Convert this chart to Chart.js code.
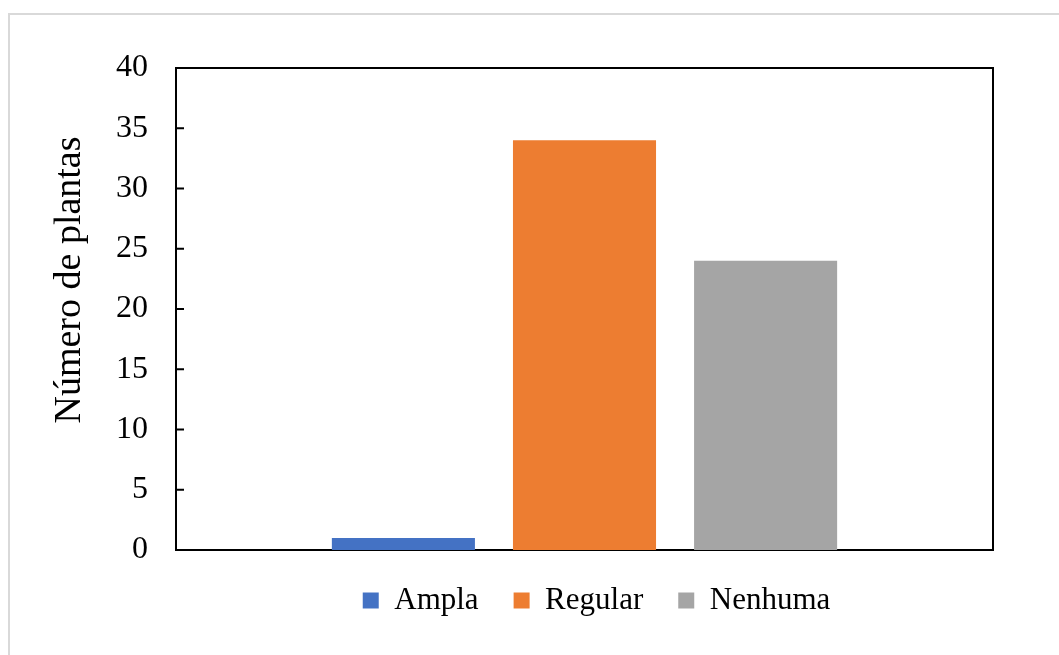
<!DOCTYPE html>
<html lang="pt">
<head>
<meta charset="utf-8">
<title>Número de plantas</title>
<script src="https://cdn.jsdelivr.net/npm/chart.js@4/dist/chart.umd.min.js"></script>
<style>
  html, body { margin: 0; padding: 0; background: #fff; overflow: hidden; }
  #moldura {
    position: absolute; left: 8px; top: 13px; width: 1100px; height: 700px;
    border: 2px solid #d9d9d9; box-sizing: border-box;
  }
  #grafico { position: absolute; left: 0; top: 0; }
</style>
</head>
<body>
<div id="moldura"></div>
<canvas id="grafico" width="1059" height="655"></canvas>
<script>
const categorias = [''];
const series = ['Ampla', 'Regular', 'Nenhuma'];
const valoresAmpla = [1];
const valoresRegular = [34];
const valoresNenhuma = [24];
const cores = ['#4472C4', '#ED7D31', '#A5A5A5'];
const eixoY = { min: 0, max: 40, passo: 5 };
const tituloY = 'Número de plantas';

const fonte = 'Liberation Serif, Times New Roman, serif';

// Moldura preta da área do gráfico com marcas para dentro no eixo Y
const molduraPlot = {
  id: 'molduraPlot',
  beforeDatasetsDraw(chart) {
    const { ctx, chartArea: a, scales: { y } } = chart;
    ctx.save();
    ctx.strokeStyle = '#000';
    ctx.lineWidth = 2;
    ctx.strokeRect(a.left, a.top, a.right - a.left, a.bottom - a.top);
    ctx.beginPath();
    y.ticks.forEach(t => {
      const py = y.getPixelForValue(t.value);
      ctx.moveTo(a.left, py);
      ctx.lineTo(a.left + 8, py);
    });
    ctx.stroke();
    ctx.restore();
  }
};

// Título do eixo Y, um pouco acima do centro do eixo
const tituloEixo = {
  id: 'tituloEixo',
  afterDraw(chart) {
    const { ctx, chartArea: a } = chart;
    ctx.save();
    ctx.translate(70, (a.top + a.bottom) / 2 - 29);
    ctx.rotate(-Math.PI / 2);
    ctx.font = '38px ' + fonte;
    ctx.fillStyle = '#000';
    ctx.textAlign = 'center';
    ctx.textBaseline = 'middle';
    ctx.fillText(tituloY, 0, 0);
    ctx.restore();
  }
};

// Desloca a legenda um pouco para a direita
const ajusteLegenda = {
  id: 'ajusteLegenda',
  afterLayout(chart) {
    chart.legend.left += 12;
    chart.legend.right += 12;
  }
};

new Chart(document.getElementById('grafico'), {
  type: 'bar',
  data: {
    labels: categorias,
    datasets: [
      { label: series[0], data: valoresAmpla, backgroundColor: cores[0] },
      { label: series[1], data: valoresRegular, backgroundColor: cores[1] },
      { label: series[2], data: valoresNenhuma, backgroundColor: cores[2] }
    ]
  },
  options: {
    responsive: false,
    animation: false,
    categoryPercentage: 0.665,
    barPercentage: 0.79,
    layout: { padding: { left: 42, top: 68, right: 66, bottom: 29 } },
    scales: {
      x: { display: false },
      y: {
        min: eixoY.min,
        max: eixoY.max,
        grid: { display: false, drawTicks: false },
        border: { display: false },
        ticks: {
          stepSize: eixoY.passo,
          padding: 28,
          color: '#000',
          font: { family: fonte, size: 32 }
        },
        afterFit(scale) { scale.width = 134; }
      }
    },
    plugins: {
      legend: {
        position: 'bottom',
        fullSize: false,
        labels: {
          color: '#000',
          boxWidth: 16,
          boxHeight: 16,
          padding: 35,
          font: { family: fonte, size: 31 }
        }
      },
      tooltip: { enabled: false }
    }
  },
  plugins: [molduraPlot, tituloEixo, ajusteLegenda]
});
</script>
</body>
</html>
